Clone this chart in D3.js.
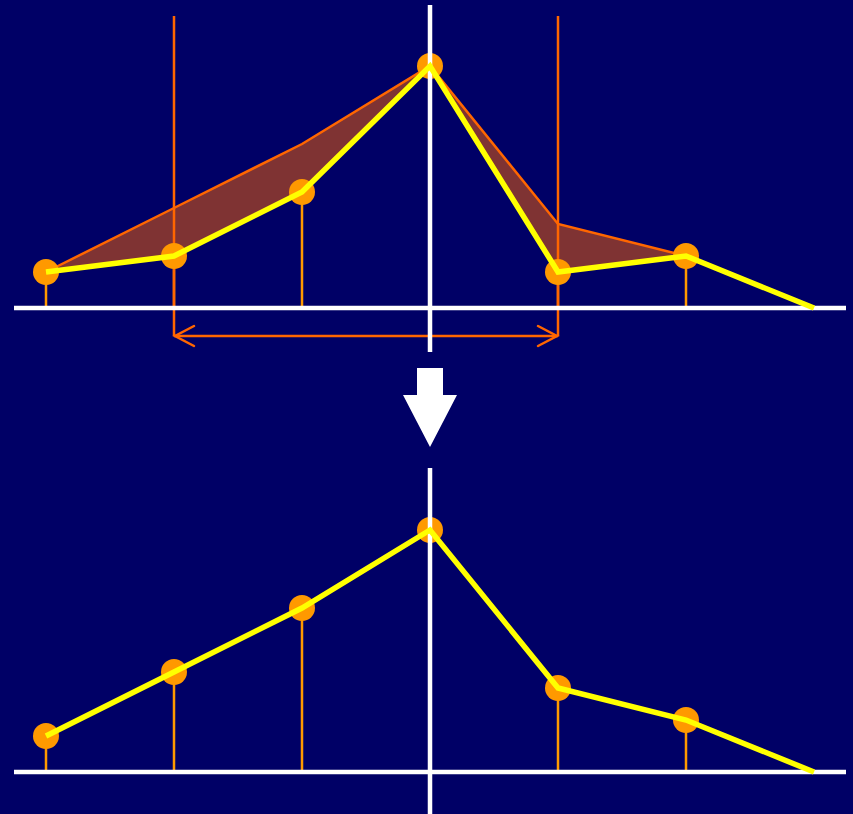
<!DOCTYPE html>
<html><head><meta charset="utf-8">
<script src="https://cdn.jsdelivr.net/npm/d3@7"></script>
<style>html,body{margin:0;padding:0;background:#000066;}svg{display:block;}</style>
</head><body>
<script>
// Data
const positions = [-3, -2, -1, 0, 1, 2, 3];             // sample positions (index offsets)
const originalValues = [36, 52, 116, 242, 36, 52, 0];   // top panel (yellow)
const maxFilteredValues = [36, 100, 164, 242, 84, 52, 0]; // envelope / bottom panel
const windowBounds = [-2, 1];                            // orange window lines

const W = 853, H = 814;
const svg = d3.select("body").append("svg").attr("width", W).attr("height", H);
svg.append("rect").attr("width", W).attr("height", H).attr("fill", "#000066");

const x = d3.scaleLinear().domain([-3, 3]).range([46, 814]);
const yTop = d3.scaleLinear().domain([0, 242]).range([308, 66]);
const yBot = d3.scaleLinear().domain([0, 242]).range([772, 530]);

const YELLOW = "#ffff00", DOT = "#ff9900", ORANGE = "#ff6600", FILL = "#7f3333";

function panel(g, y, vals, envelope) {
  const pts = positions.map((p, i) => ({p, v: vals[i]}));
  if (envelope) {
    const n = 6; // up to index 5
    const area = positions.slice(0, n).map((p, i) => ({p, lo: vals[i], hi: envelope[i]}));
    g.append("path").datum(area)
      .attr("d", d3.area().x(d => x(d.p)).y0(d => y(d.lo)).y1(d => y(d.hi)))
      .attr("fill", FILL);
    g.append("path").datum(area)
      .attr("d", d3.line().x(d => x(d.p)).y(d => y(d.hi)))
      .attr("fill", "none").attr("stroke", ORANGE).attr("stroke-width", 2.5);
  }
  // stems
  g.selectAll("line.stem").data(pts.filter(d => d.v > 0)).join("line")
    .attr("x1", d => x(d.p)).attr("x2", d => x(d.p))
    .attr("y1", d => y(d.v)).attr("y2", y(0))
    .attr("stroke", DOT).attr("stroke-width", 2.5);
  if (envelope) {
    // window vertical lines
    g.selectAll("line.win").data(windowBounds).join("line")
      .attr("x1", d => x(d)).attr("x2", d => x(d))
      .attr("y1", 16).attr("y2", 336)
      .attr("stroke", ORANGE).attr("stroke-width", 2.5);
    // double arrow
    const ay = 336;
    g.append("line").attr("x1", x(windowBounds[0])).attr("x2", x(windowBounds[1]))
      .attr("y1", ay).attr("y2", ay).attr("stroke", ORANGE).attr("stroke-width", 2.5);
    g.append("path")
      .attr("d", `M${x(windowBounds[0]) + 20},${ay - 10} L${x(windowBounds[0]) + 1},${ay} L${x(windowBounds[0]) + 20},${ay + 10}`)
      .attr("fill", "none").attr("stroke", ORANGE).attr("stroke-width", 2.5).attr("stroke-linecap", "round");
    g.append("path")
      .attr("d", `M${x(windowBounds[1]) - 20},${ay - 10} L${x(windowBounds[1]) - 1},${ay} L${x(windowBounds[1]) - 20},${ay + 10}`)
      .attr("fill", "none").attr("stroke", ORANGE).attr("stroke-width", 2.5).attr("stroke-linecap", "round");
  }
  // dots
  g.selectAll("circle").data(pts.filter(d => d.v > 0)).join("circle")
    .attr("cx", d => x(d.p)).attr("cy", d => y(d.v)).attr("r", 13).attr("fill", DOT);
  // baseline
  g.append("line").attr("x1", x(-3.25)).attr("x2", x(3.25))
    .attr("y1", y(0)).attr("y2", y(0)).attr("stroke", "#ffffff").attr("stroke-width", 4.5);
}

const gTop = svg.append("g");
panel(gTop, yTop, originalValues, maxFilteredValues);
const gBot = svg.append("g");
panel(gBot, yBot, maxFilteredValues, null);

// vertical white axes
svg.append("line").attr("x1", x(0)).attr("x2", x(0)).attr("y1", 5).attr("y2", 352)
  .attr("stroke", "#ffffff").attr("stroke-width", 4.5);
svg.append("line").attr("x1", x(0)).attr("x2", x(0)).attr("y1", 468).attr("y2", 814)
  .attr("stroke", "#ffffff").attr("stroke-width", 4.5);

// yellow lines
const lineTop = d3.line().x((d, i) => x(positions[i])).y(d => yTop(d));
const lineBot = d3.line().x((d, i) => x(positions[i])).y(d => yBot(d));
svg.append("path").datum(originalValues).attr("d", lineTop)
  .attr("fill", "none").attr("stroke", YELLOW).attr("stroke-width", 5.5).attr("stroke-linejoin", "miter");
svg.append("path").datum(maxFilteredValues).attr("d", lineBot)
  .attr("fill", "none").attr("stroke", YELLOW).attr("stroke-width", 5.5).attr("stroke-linejoin", "miter");

// big down arrow
svg.append("path")
  .attr("d", `M${x(0) - 13},368 L${x(0) + 13},368 L${x(0) + 13},395 L${x(0) + 27},395 L${x(0)},447 L${x(0) - 27},395 L${x(0) - 13},395 Z`)
  .attr("fill", "#ffffff");
</script>
</body></html>
